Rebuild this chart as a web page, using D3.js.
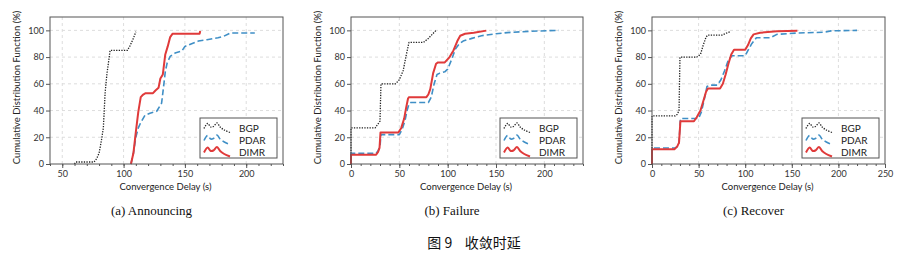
<!DOCTYPE html>
<html>
<head>
<meta charset="utf-8">
<script src="https://cdn.jsdelivr.net/npm/d3@7"></script>
<style>
  body { margin: 0; background: #fff; }
  svg { display: block; }
  .tick text { font-family: Lato, "Open Sans", sans-serif; font-size: 9px; fill: #333; }
</style>
</head>
<body>
<script>
// CDF des délais de convergence
const yTicks = [0, 20, 40, 60, 80, 100];
const seriesNames = ["BGP", "PDAR", "DIMR"];

const announcingTicks = [50, 100, 150, 200];
const announcingBGP = [[60,0],[61,1.5],[76,1.5],[78,4],[80,8],[82,18],[83.5,27],[84,36],[85,54],[86.5,68],[88,78],[89,85],[103,85],[105,88],[108,94],[110,99]];
const announcingPDAR = [[106,0],[108,8],[110,20],[112,27],[114,31],[117.5,36.5],[121.5,38],[127,39.5],[131,45.5],[132.5,57],[134,69],[135.5,75.5],[138,80.5],[142,83],[147.5,84.5],[150,88],[154,89.5],[161,92],[168,93],[177,94.5],[181.5,95.5],[187,98],[207,98]];
const announcingDIMR = [[106,0],[108,8],[110,24],[112,39],[114,50],[116,52],[118,53],[124,53],[126,55],[128.5,57],[130,64],[132,67],[134,82],[136,88],[138,95],[140,97.5],[162,97.5],[162.5,99.5]];

const failureTicks = [0, 50, 100, 150, 200];
const failureBGP = [[0,0],[0,27],[25,27],[28,30],[30,32],[31,60],[46,60],[50,63],[54,70],[57,81],[60,91],[75,91],[80,94],[88,100]];
const failurePDAR = [[0,0],[0,8],[26,8],[28,10],[30,13],[31,22],[50,22],[53,26],[56,33],[58,40],[60,45],[62,46],[80,46],[83,50],[86,60],[89,67],[92,68],[97,69],[100,71],[104,78],[108,86],[112,90],[116,92],[125,94],[135,96],[150,97.5],[165,98.5],[185,99.3],[215,100]];
const failureDIMR = [[0,0],[0,7],[26,7],[28,9],[29.5,12],[30.5,23.5],[49,23.5],[52,27],[55,34],[57,42],[59,49],[60,50],[78,50],[80,52],[82,56],[85,68],[88,75],[90,76],[97,76],[102,80],[106,85],[110,92],[113,96],[118,97.5],[127,98.2],[140,99.8]];

const recoverTicks = [0, 50, 100, 150, 200, 250];
const recoverBGP = [[0,0],[0,36],[25,36],[27,37],[29,40],[30,80],[48,80],[52,82],[55,89],[58,95],[60,96.5],[75,96.5],[80,98],[84,99]];
const recoverPDAR = [[0,0],[0,12],[25,12],[27,13],[29,16],[30.5,34],[50,34],[53,39],[56,48],[59,58],[62,59],[70,59],[74,63],[78,70],[82,78],[86,81],[100,81],[103,85],[107,90],[112,94.5],[127,94.5],[134,97],[155,98],[185,98.6],[192,99.6],[220,100]];
const recoverDIMR = [[0,0],[0,11],[24,11],[27,13],[29,16],[30.5,32],[45,32],[48,35],[52,40],[55,47],[58,54],[60,56.5],[73,56.5],[76,60],[79,67],[82,75],[85,82],[88,85.5],[100,85.5],[103,89],[106,94],[109,97],[116,98.2],[134,99.3],[156,99.8]];

const panels = [
  { left: 50, right: 283, domain: [40, 230], ticks: announcingTicks, caption: "(a) Announcing",
    series: [announcingBGP, announcingPDAR, announcingDIMR] },
  { left: 351, right: 583, domain: [0, 240], ticks: failureTicks, caption: "(b) Failure",
    series: [failureBGP, failurePDAR, failureDIMR] },
  { left: 652, right: 885, domain: [0, 250], ticks: recoverTicks, caption: "(c) Recover",
    series: [recoverBGP, recoverPDAR, recoverDIMR] }
];

const styles = [
  { stroke: "#222", width: 1.3, dash: "1.3,1.3" },
  { stroke: "#3f8fc6", width: 1.6, dash: "6,3" },
  { stroke: "#e03a3a", width: 2, dash: null }
];

// petit glyphe "vague" de la légende
const glyph = [[0,0.45],[0.14,0.95],[0.26,0.6],[0.36,0.65],[0.5,1],[0.62,0.6],[0.78,0.3],[1,0.05]];

const TOP = 17, BOTTOM = 164;
const svg = d3.select("body").append("svg").attr("width", 897).attr("height", 264);
const y = d3.scaleLinear().domain([0, 110]).range([BOTTOM, TOP]);

panels.forEach((p) => {
  const g = svg.append("g");
  const x = d3.scaleLinear().domain(p.domain).range([p.left, p.right]);

  // grille
  g.selectAll(".gx").data(p.ticks.filter((t) => t > p.domain[0] && t < p.domain[1]))
    .enter().append("line")
    .attr("x1", (d) => x(d)).attr("x2", (d) => x(d))
    .attr("y1", TOP).attr("y2", BOTTOM)
    .attr("stroke", "#ddd").attr("stroke-dasharray", "3,3");
  g.selectAll(".gy").data(yTicks.filter((t) => t > 0))
    .enter().append("line")
    .attr("x1", p.left).attr("x2", p.right)
    .attr("y1", (d) => y(d)).attr("y2", (d) => y(d))
    .attr("stroke", "#ddd").attr("stroke-dasharray", "3,3");

  // courbes
  const line = d3.line().x((d) => x(d[0])).y((d) => y(d[1]));
  p.series.forEach((s, i) => {
    g.append("path").datum(s)
      .attr("d", line)
      .attr("fill", "none")
      .attr("stroke", styles[i].stroke)
      .attr("stroke-width", styles[i].width)
      .attr("stroke-dasharray", styles[i].dash)
      .attr("stroke-linejoin", "round");
  });

  // cadre
  g.append("rect")
    .attr("x", p.left).attr("y", TOP)
    .attr("width", p.right - p.left).attr("height", BOTTOM - TOP)
    .attr("fill", "none").attr("stroke", "#555").attr("stroke-width", 1);

  // axes
  const minor = d3.range(p.domain[0], p.domain[1] + 1, 10);
  g.append("g").attr("transform", `translate(0,${BOTTOM})`)
    .call(d3.axisBottom(x).tickValues(minor).tickSize(2).tickFormat(""))
    .call((a) => a.select(".domain").remove())
    .selectAll("line").attr("stroke", "#555");
  g.append("g").attr("transform", `translate(0,${BOTTOM})`)
    .call(d3.axisBottom(x).tickValues(p.ticks).tickSize(4).tickPadding(3))
    .call((a) => a.select(".domain").remove())
    .selectAll("line").attr("stroke", "#555");
  g.append("g").attr("transform", `translate(${p.left},0)`)
    .call(d3.axisLeft(y).tickValues(yTicks).tickSize(4).tickPadding(2))
    .call((a) => a.select(".domain").remove())
    .selectAll("line").attr("stroke", "#555");

  g.append("text")
    .attr("x", (p.left + p.right) / 2 - 1).attr("y", 190)
    .attr("text-anchor", "middle")
    .style("font-family", "Lato, sans-serif").style("font-size", "9.5px").attr("fill", "#222")
    .text("Convergence Delay (s)");
  g.append("text")
    .attr("transform", `translate(${p.left - 30},${(TOP + BOTTOM) / 2 - 3}) rotate(-90)`)
    .attr("text-anchor", "middle")
    .style("font-family", "Lato, sans-serif").style("font-size", "9.5px").attr("fill", "#222")
    .text("Cumulative Distribution Function (%)");

  // légende
  const lx = p.right - 83, ly = 118;
  g.append("rect").attr("x", lx).attr("y", ly).attr("width", 77).attr("height", 40)
    .attr("fill", "#fff").attr("stroke", "#555");
  const gx = d3.scaleLinear().domain([0, 1]).range([lx + 4, lx + 30]);
  seriesNames.forEach((name, i) => {
    const cy = ly + 10 + i * 12;
    const gy = d3.scaleLinear().domain([0, 1]).range([cy + 5, cy - 5]);
    g.append("path").datum(glyph)
      .attr("d", d3.line().x((d) => gx(d[0])).y((d) => gy(d[1])).curve(d3.curveCatmullRom))
      .attr("fill", "none")
      .attr("stroke", styles[i].stroke)
      .attr("stroke-width", styles[i].width)
      .attr("stroke-dasharray", styles[i].dash);
    g.append("text").attr("x", lx + 39).attr("y", cy + 3.5)
      .style("font-family", "Lato, sans-serif").style("font-size", "10px").attr("fill", "#222")
      .text(name);
  });

  svg.append("text")
    .attr("x", (p.left + p.right) / 2 - 15).attr("y", 215)
    .attr("text-anchor", "middle")
    .style("font-family", "'Liberation Serif', 'Times New Roman', serif").style("font-size", "13px").attr("fill", "#111")
    .text(p.caption);
});

svg.append("text")
  .attr("x", 474).attr("y", 248)
  .attr("text-anchor", "middle")
  .style("font-family", "'Noto Sans CJK SC', sans-serif").style("font-size", "14px").attr("fill", "#111")
  .attr("xml:space", "preserve")
  .text("图 9    收敛时延");
</script>
</body>
</html>
